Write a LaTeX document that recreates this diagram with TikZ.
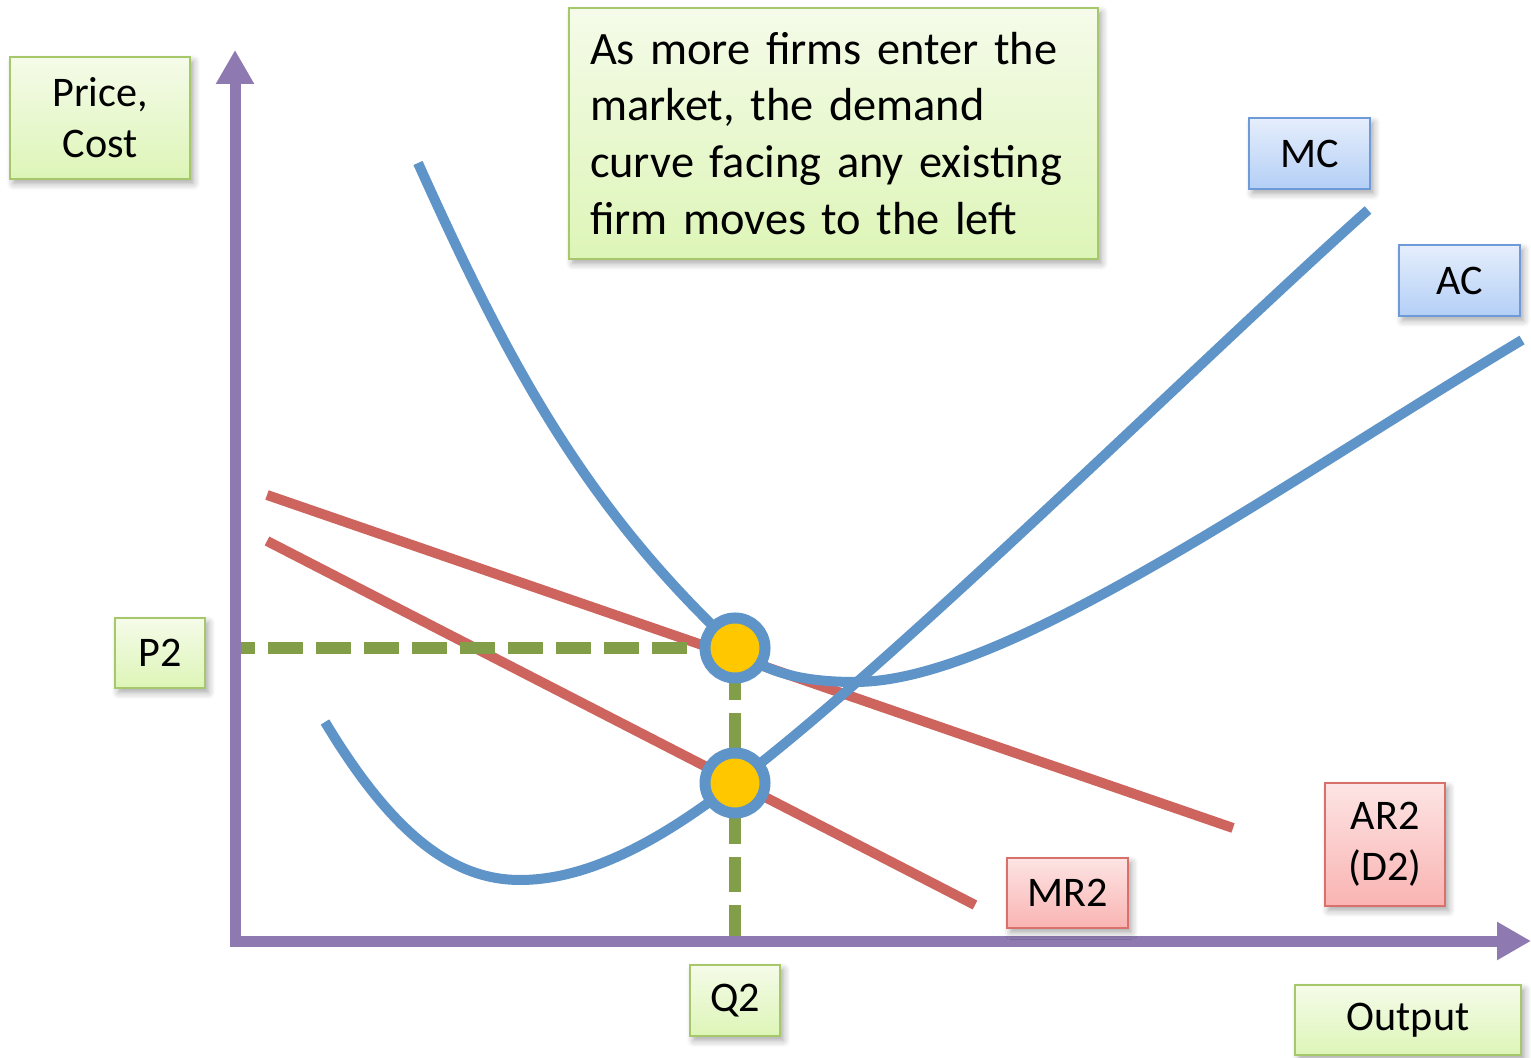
\documentclass[tikz,border=0pt]{standalone}
\usepackage{fontspec}
\setmainfont{Carlito}
\usetikzlibrary{arrows.meta, shadows.blur}

\definecolor{axispurple}{RGB}{142,122,176}
\definecolor{costblue}{RGB}{94,148,200}
\definecolor{revred}{RGB}{205,100,94}
\definecolor{guidegreen}{RGB}{131,158,72}
\definecolor{dotyellow}{RGB}{255,199,0}
\definecolor{greentop}{RGB}{245,251,233}
\definecolor{greenbot}{RGB}{221,245,183}
\definecolor{greenedge}{RGB}{166,200,106}
\definecolor{bluetop}{RGB}{229,238,252}
\definecolor{bluebot}{RGB}{180,207,246}
\definecolor{blueedge}{RGB}{110,155,216}
\definecolor{redtop}{RGB}{253,228,228}
\definecolor{redbot}{RGB}{249,180,178}
\definecolor{rededge}{RGB}{216,112,108}

\begin{document}
\begin{tikzpicture}[
    font=\fontsize{12}{14.6}\selectfont,
    lbl/.style={
        draw, line width=0.7pt, align=center, inner sep=0pt,
        blur shadow={shadow xshift=1pt, shadow yshift=-1.3pt,
                     shadow blur steps=6, shadow opacity=35}
    },
    greenlbl/.style={lbl, draw=greenedge, top color=greentop, bottom color=greenbot},
    bluelbl/.style={lbl, draw=blueedge, top color=bluetop, bottom color=bluebot},
    redlbl/.style={lbl, draw=rededge, top color=redtop, bottom color=redbot},
    axis/.style={draw=axispurple, line width=0.11cm,
                 -{Triangle[length=0.34cm, width=0.36cm]}},
    costcurve/.style={draw=costblue, line width=0.1cm},
    revline/.style={draw=revred, line width=0.1cm},
    guide/.style={draw=guidegreen, line width=0.12cm, dash pattern=on 0.35cm off 0.13cm},
    eqdot/.style={circle, draw=costblue, line width=0.11cm, fill=dotyellow,
                  minimum size=0.6cm, inner sep=0pt},
]
\useasboundingbox (0,0) rectangle (15.31,10.57);

% ---------- axes ----------
\coordinate (ytip)   at (2.35,10.07);
\coordinate (xtip)   at (15.31,1.16);
\coordinate (ybase)  at (2.35,1.11);
\coordinate (xbase)  at (2.30,1.16);

% ---------- revenue lines ----------
\coordinate (arstart) at (2.67,5.62);
\coordinate (arend)   at (12.33,2.29);
\coordinate (mrstart) at (2.67,5.16);
\coordinate (mrend)   at (9.75,1.52);
\draw[revline] (arstart) -- (arend);
\draw[revline] (mrstart) -- (mrend);

% ---------- cost curves ----------
% AC
\draw[costcurve] (4.18,8.94) .. controls (5.08,6.94) and (5.85,5.50) .. (7.35,4.10)
                 .. controls (7.65,3.82) and (8.10,3.75) .. (8.55,3.75)
                 .. controls (10.05,3.75) and (12.72,5.67) .. (15.22,7.17);
% MC
\draw[costcurve] (3.25,3.35) .. controls (3.90,2.27) and (4.50,1.77) .. (5.20,1.77)
                 .. controls (6.00,1.77) and (6.80,2.32) .. (7.35,2.74)
                 .. controls (9.00,3.99) and (12.00,6.97) .. (13.68,8.47);

% ---------- equilibrium ----------
\coordinate (eqtop) at (7.35,4.09);
\coordinate (eqlow) at (7.35,2.74);
\coordinate (pleft) at (2.40,4.09);
\coordinate (qfoot) at (7.35,1.17);
\draw[guide] (eqtop) -- (pleft);
\draw[guide] (qfoot) -- (eqtop);
\node[eqdot] (topdot) at (eqtop) {};
\node[eqdot] (lowdot) at (eqlow) {};

\draw[axis] (ybase) -- (ytip);
\draw[axis] (xbase) -- (xtip);

% ---------- labels ----------
\node[greenlbl, minimum width=1.80cm, minimum height=1.22cm] (pricecost) at (1.00,9.39) {Price,\\Cost};
\node[greenlbl, minimum width=0.90cm, minimum height=0.70cm] (ptwo) at (1.60,4.04) {P2};
\node[greenlbl, minimum width=0.90cm, minimum height=0.71cm] (qtwo) at (7.35,0.565) {Q2};
\node[greenlbl, minimum width=2.26cm, minimum height=0.70cm] (output) at (14.08,0.37) {Output};
\node[greenlbl, text width=4.87cm, inner xsep=0.21cm, minimum height=2.51cm, align=left,
      font=\fontsize{13.2}{16.2}\selectfont] (note) at (8.335,9.235)
    {As more firms enter the\\market, the demand\\curve facing any existing\\firm moves to the left};
\node[bluelbl, minimum width=1.21cm, minimum height=0.71cm] (mclabel) at (13.095,9.035) {MC};
\node[bluelbl, minimum width=1.21cm, minimum height=0.71cm] (aclabel) at (14.595,7.765) {AC};
\node[redlbl, minimum width=1.21cm, minimum height=0.70cm] (mrtwo) at (10.675,1.64) {MR2};
\node[redlbl, minimum width=1.20cm, minimum height=1.23cm] (artwo) at (13.85,2.125) {AR2\\(D2)};
\end{tikzpicture}
\end{document}
